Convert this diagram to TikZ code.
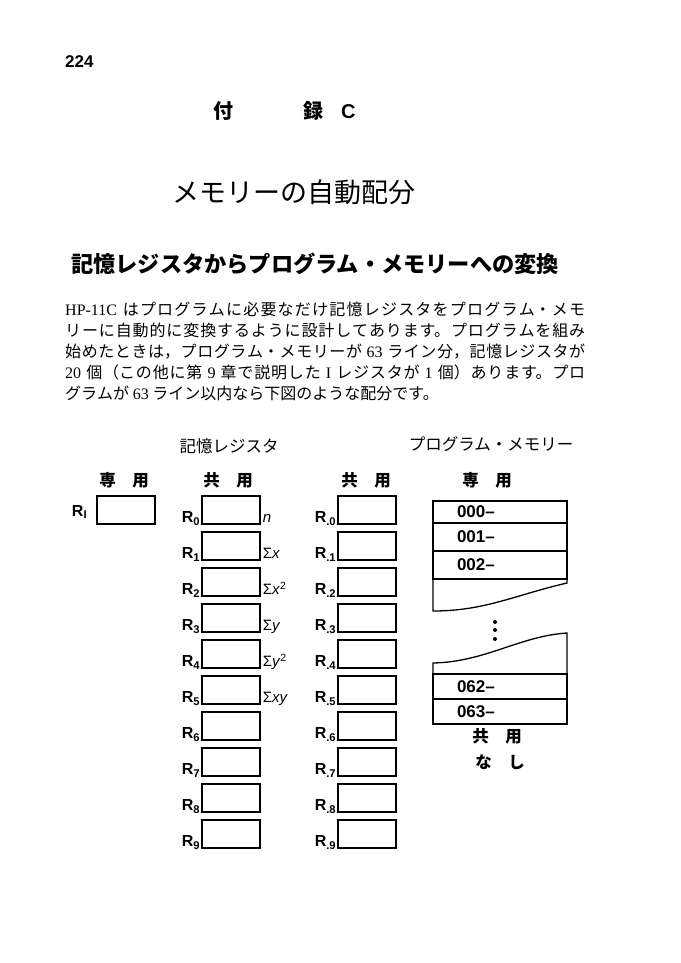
\documentclass[tikz,border=0pt]{standalone}
\usepackage{fontspec}
\setmainfont{Liberation Serif}
\setsansfont{Liberation Sans}
\newfontfamily\jp{Noto Sans CJK JP}
\newcommand{\lat}[1]{{\rmfamily #1}}
\XeTeXlinebreaklocale "ja"
\XeTeXlinebreakskip=0pt plus 1pt

\begin{document}
\begin{tikzpicture}[x=1pt, y=-1pt,
    reg/.style = {draw, line width=1.3pt, minimum width=58pt, minimum height=28pt, inner sep=0pt},
    rlbl/.style = {font=\sffamily\bfseries\fontsize{16}{16}\selectfont, inner sep=0pt, anchor=base east},
    sumlbl/.style = {font=\sffamily\fontsize{15}{15}\selectfont, inner sep=0pt, anchor=base west},
    colhead/.style = {font=\jp\bfseries\fontsize{16.5}{16.5}\selectfont, inner sep=0pt},
    pmrow/.style = {draw, line width=1.3pt, outer sep=0pt, minimum width=134pt, text width=86pt,
                    inner xsep=24pt, inner ysep=0pt, align=left,
                    font=\sffamily\bfseries\fontsize{17}{17}\selectfont},
    body/.style = {font=\jp\fontsize{16}{21}\selectfont, inner sep=0pt, text width=520pt, align=justify}
    ]

    \useasboundingbox (0,0) rectangle (680,963);

    % page header
    \node[font=\sffamily\bfseries\fontsize{17}{17}\selectfont, inner sep=0pt, anchor=west] (page) at (65,62) {224};
    \node[font=\jp\bfseries\fontsize{20}{20}\selectfont, inner sep=0pt, anchor=west] (appx) at (213,111)
        {付\hspace{70pt}録\hspace{18pt}{\sffamily C}};
    \node[font=\jp\fontsize{27}{27}\selectfont, inner sep=0pt, anchor=west] (title) at (172,192)
        {メモリーの自動配分};
    \node[font=\jp\bfseries\fontsize{22.2}{22.2}\selectfont, inner sep=0pt, anchor=west] (sect) at (71,264)
        {記憶レジスタからプログラム・メモリーへの変換};

    % text
    \node[body, anchor=north west] (para) at (65,302) {\noindent
        \lat{HP-11C} はプログラムに必要なだけ記憶レジスタをプログラム・メモ\linebreak
        リーに自動的に変換するように設計してあります。プログラムを組み\linebreak
        始めたときは，プログラム・メモリーが \lat{63} ライン分，記憶レジスタが\linebreak
        \lat{20} 個（この他に第 \lat{9} 章で説明した \lat{I} レジスタが \lat{1} 個）あります。プロ\linebreak
        グラムが \lat{63} ライン以内なら下図のような配分です。};

    % column heads
    \node[colhead, font=\jp\fontsize{16.5}{16.5}\selectfont] (hreg) at (229,446) {記憶レジスタ};
    \node[colhead, font=\jp\fontsize{16.5}{16.5}\selectfont] (hprog) at (491,444) {プログラム・メモリー};
    \node[colhead] (hded) at (124,480) {専　用};
    \node[colhead] (hsh1) at (228,480) {共　用};
    \node[colhead] (hsh2) at (366,480) {共　用};
    \node[colhead] (hpded) at (487,480) {専　用};

    % registers
    \node[reg] (ri) at (126,510) {};
    \node[rlbl, anchor=east] (lri) at ([xshift=-9pt, yshift=-2pt]ri.west) {R\textsubscript{I}};
    \foreach \i in {0,...,9} {
        \node[reg] (r\i) at (231,510+36*\i) {};
        \node[rlbl] (lr\i) at ([xshift=-1pt, yshift=2pt]r\i.south west) {R\textsubscript{\i}};
        \node[reg] (rd\i) at (367,510+36*\i) {};
        \node[rlbl] (lrd\i) at ([xshift=-1pt, yshift=2pt]rd\i.south west) {R\textsubscript{.\i}};
    }
    \foreach \i/\s in {0/\textit{n}, 1/Σ\textit{x}, 2/Σ\textit{x}\textsuperscript{2},
                       3/Σ\textit{y}, 4/Σ\textit{y}\textsuperscript{2}, 5/Σ\textit{xy}}
        \node[sumlbl] (s\i) at ([xshift=2pt, yshift=2pt]r\i.south east) {\s};

    % program memory
    \node[pmrow, minimum height=22pt, anchor=north] (p0) at (500,501) {000--};
    \node[pmrow, minimum height=28pt, anchor=north] (p1) at (p0.south) {001--};
    \node[pmrow, minimum height=28pt, anchor=north] (p2) at (p1.south) {002--};
    \draw[line width=1.3pt] (p2.south west) -- (433,611)
        .. controls (485,611) and (515,595) .. (567,583) -- (p2.south east);
    \foreach \y in {622,630,639}
        \fill (495,\y) circle (2pt);
    \node[pmrow, minimum height=25pt, anchor=south] (p63) at (500,724) {063--};
    \node[pmrow, minimum height=25pt, anchor=south] (p62) at (p63.north) {062--};
    \draw[line width=1.3pt] (p62.north west) -- (433,663)
        .. controls (485,662) and (520,636) .. (567,633) -- (p62.north east);
    \node[colhead] (hpsh) at (497,736) {共　用};
    \node[colhead] (hpnone) at (500,762) {な　し};
\end{tikzpicture}
\end{document}
